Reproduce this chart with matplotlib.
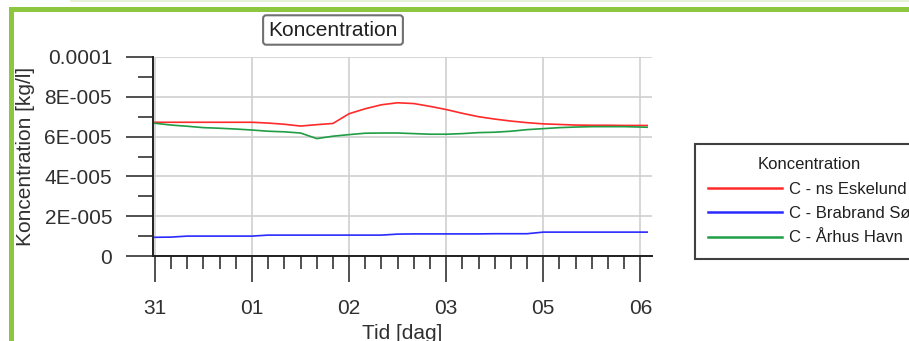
import matplotlib
matplotlib.use("Agg")
import matplotlib.pyplot as plt
from matplotlib.patches import Rectangle
from matplotlib.ticker import MultipleLocator

plt.rcParams['font.family'] = ['Liberation Sans', 'DejaVu Sans']

# time in days from the "31" tick (samples every 4 hours)
days = [i / 6 for i in range(31)] + [5.07]

eskelund = [6.72, 6.72, 6.72, 6.72, 6.72, 6.72, 6.72, 6.68, 6.62, 6.53,
            6.60, 6.66, 7.15, 7.40, 7.60, 7.70, 7.66, 7.52, 7.36, 7.17,
            7.00, 6.88, 6.78, 6.70, 6.64, 6.61, 6.58, 6.57, 6.57, 6.56,
            6.56, 6.56]
brabrand = [0.94, 0.95, 1.00, 1.00, 1.00, 1.00, 1.00, 1.05, 1.05, 1.05,
            1.05, 1.05, 1.05, 1.05, 1.05, 1.10, 1.11, 1.11, 1.11, 1.11,
            1.11, 1.12, 1.12, 1.12, 1.20, 1.20, 1.20, 1.20, 1.20, 1.20,
            1.20, 1.20]
havn = [6.67, 6.58, 6.52, 6.45, 6.42, 6.38, 6.33, 6.27, 6.24, 6.18,
        5.90, 6.02, 6.10, 6.17, 6.18, 6.18, 6.15, 6.12, 6.12, 6.15,
        6.20, 6.22, 6.27, 6.35, 6.40, 6.45, 6.48, 6.50, 6.50, 6.50,
        6.48, 6.47]
scale = 1e-5

series_names = ['C - ns Eskelund', 'C - Brabrand Sø', 'C - Århus Havn']
series_colors = ['#ff2a2a', '#2a2aff', '#1f9e45']

x_ticks = [0, 1, 2, 3, 4, 5]
x_labels = ['31', '01', '02', '03', '05', '06']
y_ticks = [0, 2e-5, 4e-5, 6e-5, 8e-5, 1e-4]
y_labels = ['0', '2E-005', '4E-005', '6E-005', '8E-005', '0.0001']

W, H = 909, 341
fig = plt.figure(figsize=(W / 100, H / 100), dpi=100)
ax = fig.add_axes([153 / W, 1 - 256 / H, (652 - 153) / W, (256 - 57) / H])

for vals, name, col in zip([eskelund, brabrand, havn], series_names, series_colors):
    ax.plot(days, [v * scale for v in vals], color=col, lw=1.2, label=name)

ax.set_xlim(-0.02, 5.12)
ax.set_ylim(0, 1e-4)
ax.set_xticks(x_ticks)
ax.set_xticklabels(x_labels)
ax.set_yticks(y_ticks)
ax.set_yticklabels(y_labels)
ax.xaxis.set_minor_locator(MultipleLocator(1 / 6))
ax.yaxis.set_minor_locator(MultipleLocator(1e-5))
ax.tick_params(axis='both', which='major', labelsize=15, width=1.1, color='#202020')
ax.tick_params(axis='x', which='major', length=19, pad=12)
ax.tick_params(axis='x', which='minor', length=9, width=1.1, color='#202020')
ax.tick_params(axis='y', which='major', length=19.5, pad=10)
ax.tick_params(axis='y', which='minor', length=11, width=1.1, color='#202020')
for lab in ax.get_xticklabels() + ax.get_yticklabels():
    lab.set_color('#303030')

ax.grid(True, which='major', color='#cfcfcf', lw=1.2)
ax.set_axisbelow(True)
for s in ['top', 'right']:
    ax.spines[s].set_visible(False)
for s in ['left', 'bottom']:
    ax.spines[s].set_linewidth(1.4)
    ax.spines[s].set_color('#202020')

ax.set_xlabel('Tid [dag]', fontsize=15, color='#303030', labelpad=4)
ax.set_ylabel('Koncentration [kg/l]', fontsize=15, color='#303030', labelpad=7)

fig.text(333 / W, 1 - 30 / H, 'Koncentration', ha='center', va='center',
         fontsize=15, color='#202020',
         bbox=dict(boxstyle='round,pad=0.25,rounding_size=0.15', fc='white',
                   ec='#707070', lw=1.5))

leg = ax.legend(loc='upper left', bbox_to_anchor=(695 / W, 1 - 144 / H),
                bbox_transform=fig.transFigure, borderaxespad=0,
                fontsize=12, title='Koncentration', title_fontsize=12,
                handlelength=4.4, handletextpad=0.45, borderpad=0.8,
                labelspacing=0.56, fancybox=False, framealpha=1)
leg.get_frame().set_edgecolor('#404040')
leg.get_frame().set_linewidth(1.5)
for t in leg.get_texts():
    t.set_color('#202020')
leg.get_title().set_color('#202020')
for h in leg.get_lines():
    h.set_linewidth(1.8)

# green frame of the page
fig.add_artist(Rectangle((9 / W, 1 - 12 / H), 1, 5 / H, transform=fig.transFigure,
                         color='#8dc63f', lw=0))
fig.add_artist(Rectangle((9 / W, 0), 5 / W, 1 - 7 / H, transform=fig.transFigure,
                         color='#8dc63f', lw=0))
fig.add_artist(Rectangle((70 / W, 1 - 2 / H), 1, 2 / H, transform=fig.transFigure,
                         color='#e6f1d6', lw=0))

fig.savefig('out.png', dpi=100)
